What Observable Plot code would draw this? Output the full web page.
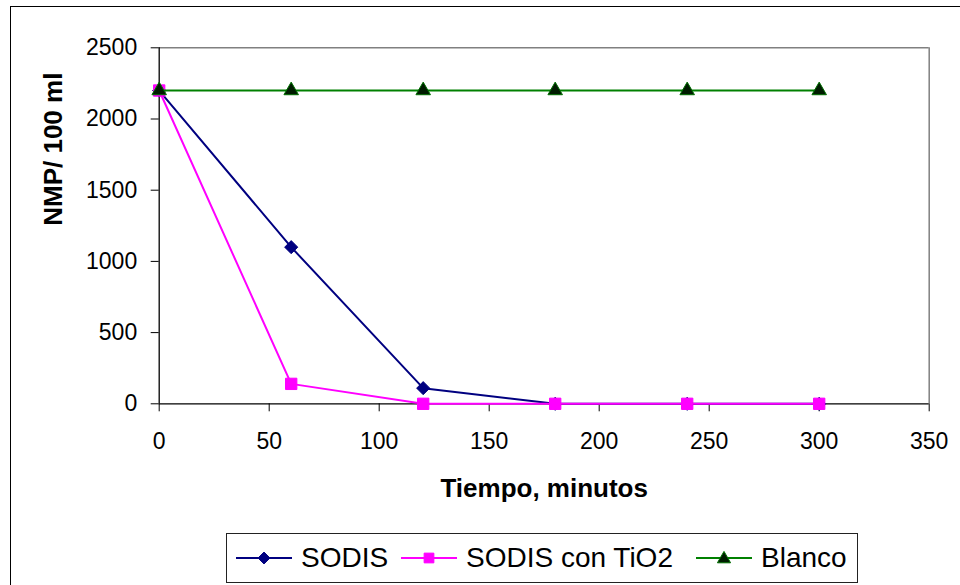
<!DOCTYPE html>
<html>
<head>
<meta charset="utf-8">
<script src="https://cdn.jsdelivr.net/npm/d3@7"></script>
<script src="https://cdn.jsdelivr.net/npm/@observablehq/plot@0.6"></script>
<style>
  html, body { margin: 0; padding: 0; background: #fff; }
  #chart {
    position: relative; width: 960px; height: 585px; overflow: hidden;
    font-family: "Liberation Sans", Arial, sans-serif; background: #fff;
  }
  #chart > svg { position: absolute; left: 0; top: 0; }
  /* outer chart-area border (only left and top edges fall inside the page) */
  #outer {
    position: absolute; left: 10px; top: 6px; width: 1000px; height: 700px;
    border: 1px solid #000; box-sizing: border-box; pointer-events: none;
  }
  #legend {
    position: absolute; left: 226px; top: 533px; width: 632px; height: 50px;
    border: 1px solid #222; box-sizing: border-box; background: #fff;
  }
  #legend .item { position: absolute; top: 0; height: 48px; display: flex; flex-direction: row; align-items: center; }
  #legend .item svg { position: static; display: block; flex: none; }
  #legend .item span { font-size: 28px; color: #000; margin-left: 9px; line-height: 1; white-space: nowrap; }
</style>
</head>
<body>
<div id="chart">
  <div id="outer"></div>
  <div id="legend"></div>
</div>
<script>
// Exposure time (minutes) and bacterial counts (NMP / 100 ml) per treatment
const tiempo = [0, 60, 120, 180, 240, 300];
const sodis = [2200, 1100, 110, 0, 0, 0];
const sodisTiO2 = [2200, 140, 0, 0, 0, 0];
const blanco = [2200, 2200, 2200, 2200, 2200, 2200];

const seriesNames = ["SODIS", "SODIS con TiO2", "Blanco"];
const xTicks = [0, 50, 100, 150, 200, 250, 300, 350];
const yTicks = [0, 500, 1000, 1500, 2000, 2500];
const xTitle = "Tiempo, minutos";
const yTitle = "NMP/ 100 ml";

const styles = {
  "SODIS": {line: "#000080", fill: "#000080", stroke: "#000080", symbol: "diamond2", r: 5.9},
  "SODIS con TiO2": {line: "#ff00ff", fill: "#ff00ff", stroke: "#ff00ff", symbol: "square", r: 6.4},
  "Blanco": {line: "#008000", fill: "#001c00", stroke: "#007000", symbol: "triangle", r: 5.4}
};

const values = [sodis, sodisTiO2, blanco];
const rows = seriesNames.flatMap((s, k) => tiempo.map((t, i) => ({serie: s, t, v: values[k][i]})));

const seriesMarks = seriesNames.flatMap(s => {
  const st = styles[s];
  const d = rows.filter(r => r.serie === s);
  return [
    Plot.line(d, {x: "t", y: "v", stroke: st.line, strokeWidth: 2}),
    Plot.dot(d, {x: "t", y: "v", symbol: st.symbol, r: st.r, fill: st.fill, stroke: st.stroke, strokeWidth: 1})
  ];
});

const W = 960, H = 520;
const mL = 158.7, mT = 47.3, mR = 31.3, mB = H - 403.3;

const plot = Plot.plot({
  width: W,
  height: H,
  marginLeft: mL,
  marginTop: mT,
  marginRight: mR,
  marginBottom: mB,
  style: {fontFamily: "'Liberation Sans', Arial, sans-serif", background: "transparent", overflow: "visible", color: "#000"},
  x: {domain: [0, 350]},
  y: {domain: [0, 2500]},
  marks: [
    // plot-area frame: grey top and right edges
    Plot.ruleY([2500], {stroke: "#808080", strokeWidth: 1.5}),
    Plot.ruleX([350], {stroke: "#808080", strokeWidth: 1.5}),
    // axis lines
    Plot.ruleX([0], {stroke: "#000", strokeWidth: 1.3}),
    Plot.ruleY([0], {stroke: "#000", strokeWidth: 1.3}),
    Plot.axisX(xTicks, {tickSize: 8, tickPadding: 21, fontSize: 23, stroke: "#000", tickFormat: d3.format("d"), label: null}),
    Plot.axisY(yTicks, {tickSize: 8, tickPadding: 14, fontSize: 23, stroke: "#000", tickFormat: d3.format("d"), label: null}),
    ...seriesMarks,
    // axis titles
    Plot.text([xTitle], {text: d => d, frameAnchor: "bottom", lineAnchor: "bottom", dy: 93, fontSize: 26, fontWeight: "bold", fill: "#000"}),
    Plot.text([yTitle], {text: d => d, frameAnchor: "left", rotate: -90, lineAnchor: "middle", dx: -106, fontSize: 26, fontWeight: "bold", fill: "#000"})
  ]
});

const chart = document.getElementById("chart");
chart.insertBefore(plot, chart.firstChild);

// legend: one swatch (line + marker) per series
const legend = document.getElementById("legend");
const itemLeft = {"SODIS": 9, "SODIS con TiO2": 174, "Blanco": 469};
const legendSize = {"SODIS": 90, "SODIS con TiO2": 95, "Blanco": 75};
for (const s of seriesNames) {
  const st = styles[s];
  const item = document.createElement("div");
  item.className = "item";
  item.style.left = itemLeft[s] + "px";
  const sym = d3.symbol(
    s === "SODIS" ? d3.symbolDiamond2 : s === "SODIS con TiO2" ? d3.symbolSquare : d3.symbolTriangle,
    legendSize[s]
  )();
  item.innerHTML =
    `<svg width="56" height="20" viewBox="0 0 56 20">
       <line x1="0" x2="56" y1="10" y2="10" stroke="${st.line}" stroke-width="2"/>
       <path d="${sym}" transform="translate(28,${s === "Blanco" ? 11 : 10})" fill="${st.fill}" stroke="${st.stroke}" stroke-width="1"/>
     </svg><span>${s}</span>`;
  legend.appendChild(item);
}
</script>
</body>
</html>
